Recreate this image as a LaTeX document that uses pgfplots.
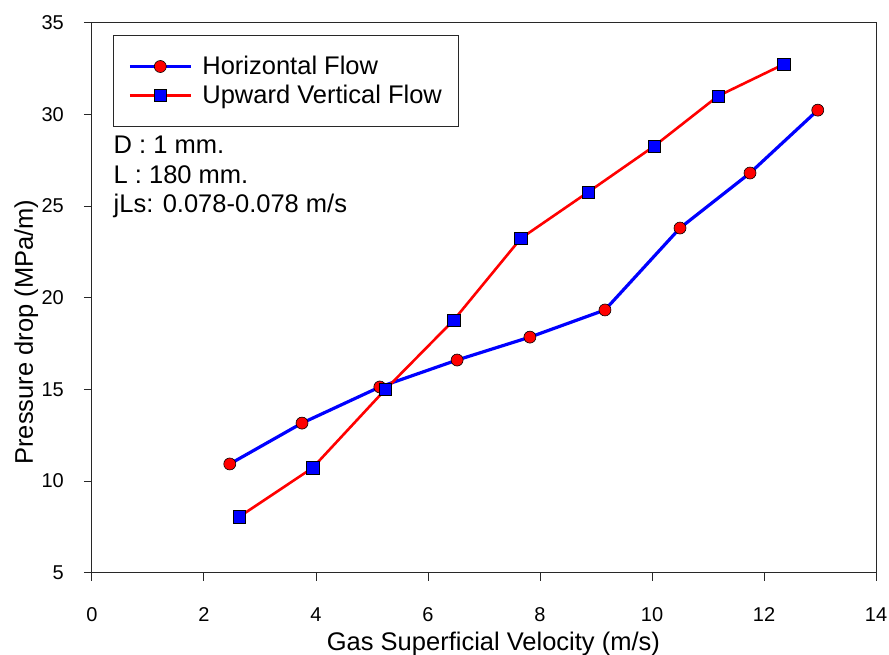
\documentclass[border=0pt]{standalone}
\usepackage{fontspec}
\setmainfont{Liberation Sans}
\usepackage{pgfplots}
\pgfplotsset{compat=1.18}
\definecolor{pureblue}{RGB}{0,0,255}
\definecolor{purered}{RGB}{255,0,0}
\definecolor{axisgray}{RGB}{40,40,40}
\pgfplotstableread{
x y
2.46 10.93
3.75 13.16
5.14 15.13
6.52 16.60
7.82 17.85
9.16 19.33
10.50 23.80
11.75 26.80
12.96 30.23
}\horizontal
\pgfplotstableread{
x y
2.63 8.05
3.94 10.72
5.24 15.00
6.46 18.78
7.66 23.24
8.86 25.76
10.04 28.27
11.18 31.00
12.35 32.73
}\vertical
\begin{document}
\begin{tikzpicture}
\useasboundingbox (-92pt,-82.3pt) rectangle (797pt,572.7pt);
\begin{axis}[
  scale only axis, width=784pt, height=550pt,
  xmin=0, xmax=14, ymin=5, ymax=35,
  xtick={0,2,...,14}, ytick={5,10,...,35},
  tick pos=left, tick align=outside, major tick length=8pt,
  axis line style={line width=1pt, axisgray},
  every tick/.style={line width=1pt, axisgray},
  /pgf/number format/assume math mode=true,
  tick label style={font=\fontsize{20}{24}\selectfont, text=black},
  xticklabel style={inner sep=0pt, anchor=base, yshift=-41pt},
  yticklabel style={inner sep=0pt, anchor=east, xshift=-20pt},
  label style={font=\fontsize{25.5}{30}\selectfont},
  xlabel={Gas Superficial Velocity (m/s)},
  ylabel={Pressure drop (MPa/m)},
  xlabel style={at={(axis description cs:0.512,-0.1418)}, anchor=base, inner sep=0pt},
  ylabel style={at={(axis description cs:-0.0753,0.4376)}, anchor=base, rotate=0, inner sep=0pt},
  clip=false,
  legend cell align=left,
  legend image code/.code={\draw[mark repeat=2,mark phase=2,#1] plot coordinates {(0pt,0pt) (30.5pt,0pt) (61pt,0pt)};},
  legend style={at={(axis description cs:0.0264,0.9776)}, anchor=north west,
    draw=axisgray, line width=1pt, inner xsep=15pt, inner ysep=19pt,
    row sep=5pt, column sep=8pt,
    font=\fontsize{25.5}{30}\selectfont},
]
\addplot[pureblue, line width=3.2pt, mark=*, mark size=6pt,
  mark options={fill=purered, draw=black, line width=0.6pt}]
  table[x=x, y=y] {\horizontal};
\addlegendentry{Horizontal Flow}
\addplot[purered, line width=2.6pt, mark=square*, mark size=6.2pt,
  mark options={fill=pureblue, draw=black, line width=0.6pt}]
  table[x=x, y=y] {\vertical};
\addlegendentry{Upward Vertical Flow}
\node[anchor=base west, inner sep=0pt, font=\fontsize{25.5}{30}\selectfont] at (axis description cs:0.0274,0.763) {D : 1 mm.};
\node[anchor=base west, inner sep=0pt, font=\fontsize{25.5}{30}\selectfont] at (axis description cs:0.0274,0.708) {L : 180 mm.};
\node[anchor=base west, inner sep=0pt, font=\fontsize{25.5}{30}\selectfont] at (axis description cs:0.0274,0.654) {jLs: 0.078-0.078 m/s};
\end{axis}
\end{tikzpicture}
\end{document}
